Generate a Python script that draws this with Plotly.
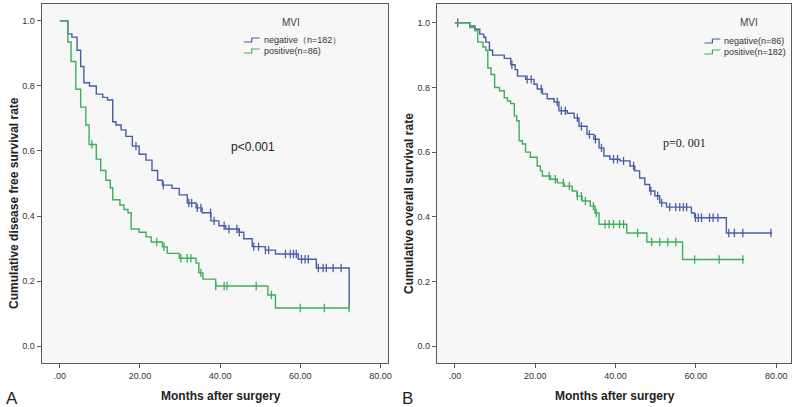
import plotly.graph_objects as go

# ---------------- data ----------------
# Panel A: disease free survival
a_neg_t = [0, 2, 3, 4.3, 5.2, 6, 7.4, 9.1, 10.7, 11.9, 13.2, 14, 15.3, 16.5, 18.1, 19.8, 21.5, 23, 24.4, 25.6,
           28, 29.8, 31.8, 34, 35.5, 37.7, 39.7, 41.4, 44.7, 45.9, 48, 51.3, 53.8, 59.5, 64, 72.2]
a_neg_s = [1.0, 0.96, 0.95, 0.91, 0.86, 0.81, 0.80, 0.775, 0.765, 0.757, 0.69, 0.68, 0.665, 0.645, 0.615, 0.59,
           0.572, 0.54, 0.51, 0.495, 0.485, 0.465, 0.44, 0.425, 0.41, 0.385, 0.37, 0.36, 0.35, 0.33, 0.306,
           0.295, 0.283, 0.267, 0.24, 0.117]
a_neg_end = 72.2
a_neg_cens = [19.0, 25.8, 32.2, 32.9, 34.3, 35.2, 37.6, 38.5, 41.0, 42.2, 44.2, 44.8, 48.4, 49.6, 51.3, 52.1,
              56.3, 57.5, 58.3, 59.0, 60.3, 61.2, 62.0, 64.5, 65.7, 66.5, 68.2, 70.2]

a_pos_t = [0, 2, 2.8, 4, 5.2, 6.5, 7.3, 9.1, 10.2, 11.5, 12.6, 13.2, 15, 16, 17, 17.8, 19.8, 21.5, 22.8, 25.6,
           26.8, 29.8, 34, 34.7, 35.7, 38.9, 51.9, 53.8]
a_pos_s = [1.0, 0.935, 0.875, 0.79, 0.735, 0.68, 0.62, 0.575, 0.54, 0.51, 0.487, 0.45, 0.434, 0.42, 0.41, 0.36,
           0.35, 0.336, 0.32, 0.305, 0.285, 0.27, 0.255, 0.225, 0.206, 0.185, 0.157, 0.117]
a_pos_end = 72.2
a_pos_cens = [8.0, 24.2, 26.0, 30.2, 31.8, 32.7, 35.2, 38.9, 41.0, 41.7, 49.0, 52.8, 60.0, 66.0, 72.2]

# Panel B: overall survival
b_neg_t = [0, 3.7, 5, 6.2, 7.2, 7.7, 8.6, 9.4, 12.3, 13.9, 15, 15.6, 17.6, 19.7, 20.5, 21.8, 23, 24.7, 25.9,
           28, 29.7, 30.9, 32.9, 34.6, 35.9, 37.1, 38.6, 41.1, 43.6, 44.8, 46, 47.3, 48.5, 49.8, 51, 52.7,
           58.9, 59.7, 67.6]
b_neg_s = [1.0, 0.99, 0.98, 0.965, 0.955, 0.94, 0.915, 0.90, 0.89, 0.87, 0.855, 0.835, 0.825, 0.81, 0.795,
           0.78, 0.765, 0.755, 0.728, 0.72, 0.706, 0.68, 0.655, 0.64, 0.613, 0.588, 0.578, 0.573, 0.557, 0.542,
           0.52, 0.50, 0.48, 0.465, 0.443, 0.43, 0.412, 0.397, 0.35]
b_neg_end = 79
b_neg_cens = [0.7, 14.2, 18.0, 19.0, 21.5, 25.5, 26.5, 27.5, 30.5, 31.5, 33.5, 35.0, 36.5, 39.5, 40.5, 42.0,
              44.5, 48.8, 50.5, 51.5, 53.5, 55.0, 56.0, 56.9, 57.7, 59.9, 60.6, 61.4, 63.4, 64.3, 65.5, 68.2,
              69.6, 71.7, 78.7]

b_pos_t = [0, 3.7, 5, 5.7, 7, 7.7, 8.2, 9, 9.9, 11.1, 12.3, 13.1, 13.9, 14.8, 15.4, 16, 16.8, 17.6, 18.8, 20.5,
           21.3, 21.8, 23.8, 25.5, 27.2, 29.2, 30.4, 31.7, 33.7, 34.9, 35.9, 42.8, 47.8, 56.7]
b_pos_s = [1.0, 0.985, 0.975, 0.94, 0.925, 0.915, 0.86, 0.84, 0.80, 0.79, 0.768, 0.758, 0.75, 0.712, 0.697,
           0.635, 0.625, 0.60, 0.584, 0.557, 0.542, 0.526, 0.516, 0.505, 0.495, 0.48, 0.464, 0.449, 0.433,
           0.412, 0.377, 0.35, 0.322, 0.268]
b_pos_end = 72
b_pos_cens = [23.5, 25.0, 27.0, 28.5, 30.5, 31.5, 32.5, 34.5, 35.2, 37.4, 38.4, 39.5, 41.0, 42.0, 45.5, 49.0,
              51.0, 53.0, 55.0, 59.7, 65.8, 71.7]

x_tickvals = [0, 20, 40, 60, 80]
x_ticktext = [".00", "20.00", "40.00", "60.00", "80.00"]
y_tickvals = [0.0, 0.2, 0.4, 0.6, 0.8, 1.0]
y_ticktext = ["0.0", "0.2", "0.4", "0.6", "0.8", "1.0"]

BLUE = "#4a5ea8"
GREEN = "#3fae5c"
W, H = 800, 407
FONT = "Liberation Sans, Arial, sans-serif"


def surv_at(ts, ss, t):
    v = ss[0]
    for ti, si in zip(ts, ss):
        if ti <= t:
            v = si
    return v


fig = go.Figure()


def add_curve(ts, ss, end, cens, color, xa, ya):
    xs = list(ts) + [end]
    ys = list(ss) + [ss[-1]]
    fig.add_trace(go.Scatter(x=xs, y=ys, mode="lines", line=dict(color=color, width=1.4, shape="hv"),
                             xaxis=xa, yaxis=ya, showlegend=False, hoverinfo="skip"))
    cy = [surv_at(ts, ss, c) for c in cens]
    fig.add_trace(go.Scatter(x=cens, y=cy, mode="markers",
                             marker=dict(symbol="line-ns-open", size=6, color=color,
                                         line=dict(color=color, width=1.3)),
                             xaxis=xa, yaxis=ya, showlegend=False, hoverinfo="skip"))


add_curve(a_neg_t, a_neg_s, a_neg_end, a_neg_cens, BLUE, "x", "y")
add_curve(a_pos_t, a_pos_s, a_pos_end, a_pos_cens, GREEN, "x", "y")
add_curve(b_neg_t, b_neg_s, b_neg_end, b_neg_cens, BLUE, "x2", "y2")
add_curve(b_pos_t, b_pos_s, b_pos_end, b_pos_cens, GREEN, "x2", "y2")


def px(x, y):
    return x / W, 1 - y / H


axis_common = dict(showline=True, mirror=True, linecolor="#5a5a5a", linewidth=1.2, ticks="outside",
                   ticklen=4, tickcolor="#5a5a5a", showgrid=False, zeroline=False,
                   tickfont=dict(family=FONT, size=9, color="#333"))

(l1, b1) = px(42, 363)
(r1, t1) = px(390, 4)
(l2, _) = px(439, 363)
(r2, _) = px(795, 4)

fig.update_layout(
    width=W, height=H, margin=dict(l=0, r=0, t=0, b=0),
    paper_bgcolor="white", plot_bgcolor="#f7f7f7",
    xaxis=dict(domain=[l1, r1], range=[-4.5, 81.9], tickvals=x_tickvals, ticktext=x_ticktext, anchor="y",
               **axis_common),
    yaxis=dict(domain=[b1, t1], range=[-0.052, 1.052], tickvals=y_tickvals, ticktext=y_ticktext, anchor="x",
               **axis_common),
    xaxis2=dict(domain=[l2, r2], range=[-4.5, 83.7], tickvals=x_tickvals, ticktext=x_ticktext, anchor="y2",
                **axis_common),
    yaxis2=dict(domain=[b1, t1], range=[-0.052, 1.058], tickvals=y_tickvals, ticktext=y_ticktext, anchor="x2",
                **axis_common),
)

ann = []
shapes = []


def text(x, y, s, size=10, bold=False, color="#222", family=FONT, angle=0, xanchor="center"):
    xp, yp = px(x, y)
    ann.append(dict(x=xp, y=yp, xref="paper", yref="paper", text=("<b>%s</b>" % s) if bold else s,
                    showarrow=False, font=dict(family=family, size=size, color=color), textangle=angle,
                    xanchor=xanchor, yanchor="middle"))


text(14, 203, "Cumulative disease free survival rate", size=12, bold=True, angle=-90)
text(222, 396, "Months after surgery", size=12, bold=True)
text(12, 398, "A", size=17)
text(411, 203, "Cumulative overall survival rate", size=12, bold=True, angle=-90)
text(618, 396, "Months after surgery", size=12, bold=True)
text(410, 398, "B", size=17)

text(254, 147, "p<0.001", size=12)
text(688, 143, "p=0. 001", size=12, family="Liberation Serif, Times New Roman, serif")

# legends
text(292, 22, "MVI", size=10, color="#444")
text(263, 40, "negative（n=182）", size=9, xanchor="left", color="#333")
text(263, 51, "positive(n=86)", size=9, xanchor="left", color="#333")
text(753, 22, "MVI", size=10, color="#444")
text(726, 41, "negative(n=86)", size=9, xanchor="left", color="#333")
text(726, 52, "positive(n=182)", size=9, xanchor="left", color="#333")


def icon(x0, y, color):
    pts = [(x0, y + 2), (x0 + 8, y + 2), (x0 + 8, y - 2), (x0 + 16, y - 2)]
    path = "M " + " L ".join("%f,%f" % px(a, b) for a, b in pts)
    shapes.append(dict(type="path", path=path, xref="paper", yref="paper",
                       line=dict(color=color, width=1.2)))


icon(245, 40, BLUE)
icon(245, 51, GREEN)
icon(708, 41, BLUE)
icon(708, 52, GREEN)

fig.update_layout(annotations=ann, shapes=shapes)
fig.write_html("out.html", config={"displayModeBar": False},
               post_script="document.body.style.margin='0px';")
